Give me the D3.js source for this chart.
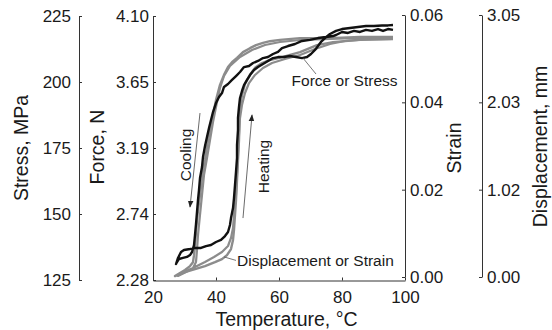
<!DOCTYPE html>
<html><head><meta charset="utf-8">
<script src="https://cdn.jsdelivr.net/npm/d3@7/dist/d3.min.js"></script>
<style>
html,body{margin:0;padding:0;background:#fff;}
svg{display:block;}
text{font-family:"Liberation Sans", Arial, sans-serif;fill:#1a1a1a;}
</style></head><body>
<svg id="chart" width="552" height="330"></svg>
<script>
// ---------- tick labels ----------
const tempTicks = [20, 40, 60, 80, 100];
const stressTicks = [125, 150, 175, 200, 225];
const forceTicks = [2.28, 2.735, 3.19, 3.645, 4.10];
const forceTickLabels = ["2.28", "2.74", "3.19", "3.65", "4.10"];
const strainTicks = [0, 0.02, 0.04, 0.06];
const dispTicks = [0, 1.0167, 2.0333, 3.05];
const dispTickLabels = ["0.00", "1.02", "2.03", "3.05"];

// ---------- Force (black) loop: cooling then heating ----------
const forceCoolT = [96.19,94.60,93.02,91.43,89.52,87.62,85.71,83.81,81.90,80.00,78.10,77.14,74.92,72.38,69.84,67.30,65.08,62.86,60.95,59.68,58.10,56.51,54.92,53.33,51.75,50.48,48.89,47.62,46.35,45.08,43.81,42.54,41.90,40.95,40.00,39.05,38.41,37.78,37.14,36.51,35.87,35.56,34.92,34.60,34.29,33.97,33.65,33.33,33.02,32.38,31.75,30.79,29.52,28.25,27.62,27.30,27.94,28.89,29.84,31.75];
const forceCoolF = [4.004,4.010,3.997,4.010,3.997,4.004,3.990,3.997,3.983,3.990,3.969,3.962,3.955,3.948,3.935,3.928,3.907,3.893,3.879,3.852,3.838,3.817,3.810,3.790,3.776,3.755,3.748,3.714,3.686,3.659,3.631,3.611,3.569,3.542,3.500,3.438,3.383,3.328,3.266,3.204,3.128,3.059,2.983,2.900,2.832,2.749,2.666,2.590,2.521,2.473,2.452,2.439,2.432,2.425,2.404,2.390,2.432,2.473,2.487,2.494];
const forceHeatT = [33.33,35.24,36.83,38.41,40.00,41.59,42.86,43.81,44.44,44.76,45.40,45.71,46.03,46.35,46.67,46.67,46.98,46.98,47.30,47.62,48.25,48.89,49.84,50.79,52.06,53.33,54.92,56.51,58.10,59.68,61.59,63.49,65.40,67.30,68.89,70.16,71.43,72.38,73.33,74.60,76.19,78.10,80.00,82.54,85.08,87.62,90.16,92.70,94.60,96.19];
const forceHeatF = [2.501,2.501,2.514,2.521,2.542,2.556,2.583,2.611,2.659,2.707,2.776,2.845,2.935,3.025,3.121,3.211,3.314,3.397,3.473,3.535,3.583,3.624,3.659,3.693,3.728,3.748,3.769,3.790,3.810,3.817,3.817,3.824,3.817,3.810,3.817,3.838,3.866,3.893,3.921,3.948,3.976,3.997,4.010,4.017,4.024,4.031,4.031,4.035,4.035,4.038];

// ---------- Strain (gray) loop ----------
const strainCoolT = [96.19,85.71,76.19,66.67,60.32,57.14,54.92,52.70,50.79,48.57,46.67,45.08,43.81,42.54,41.27,40.00,38.73,37.78,37.14,36.51,35.87,34.92,34.29,33.97,33.65,33.33,33.02,32.70,31.75,30.16,28.57,26.98];
const strainCoolS = [0.0550,0.0550,0.0547,0.0547,0.0543,0.0540,0.0536,0.0531,0.0524,0.0515,0.0502,0.0492,0.0481,0.0463,0.0440,0.0405,0.0360,0.0325,0.0298,0.0268,0.0245,0.0188,0.0153,0.0131,0.0103,0.0073,0.0050,0.0034,0.0025,0.0016,0.0009,0.0002];
const strainHeatT = [26.98,30.16,33.33,36.51,39.68,41.90,43.49,44.76,45.40,45.71,46.03,46.35,46.67,46.98,47.30,47.46,47.62,48.25,49.21,50.79,52.38,54.60,57.14,61.27,66.67,72.06,77.14,85.71,96.19];
const strainHeatS = [0.0002,0.0011,0.0018,0.0025,0.0034,0.0041,0.0050,0.0064,0.0085,0.0108,0.0142,0.0176,0.0222,0.0268,0.0314,0.0360,0.0389,0.0417,0.0442,0.0463,0.0479,0.0490,0.0497,0.0504,0.0515,0.0531,0.0538,0.0543,0.0545];

// ---------- Displacement (gray) loop ----------
const dispCoolT = [96.19,85.71,76.19,66.67,60.32,55.56,51.43,47.62,44.44,42.54,41.27,40.32,39.05,38.10,37.14,36.19,35.56,34.92,34.29,33.97,33.65,32.70,30.48,27.94];
const dispCoolD = [2.782,2.782,2.771,2.759,2.736,2.701,2.643,2.561,2.456,2.340,2.200,2.037,1.804,1.595,1.385,1.187,0.955,0.722,0.489,0.314,0.175,0.105,0.058,0.012];
const dispHeatT = [27.94,30.48,33.33,36.51,39.37,41.90,43.81,44.76,45.40,45.71,46.35,46.67,46.98,47.30,47.62,48.25,49.21,50.48,52.38,54.92,57.78,61.90,66.67,71.43,76.19,80.95,87.30,96.19];
const dispHeatD = [0.012,0.070,0.116,0.175,0.233,0.291,0.361,0.454,0.570,0.722,0.955,1.187,1.420,1.653,1.851,2.002,2.142,2.258,2.352,2.433,2.491,2.538,2.584,2.654,2.713,2.747,2.765,2.771];

// ---------- annotations (data units) ----------
const coolArrow = [[34.92, 3.431], [31.75, 2.783]];      // T, Force
const heatArrow = [[48.57, 2.707], [51.43, 3.418]];
const forceLeader = [[67.62, 3.810], [71.75, 3.700]];
const forceLabelPos = [64.0, 3.614];
const strainLeader = [[42.54, 0.0046], [46.35, 0.0038]]; // T, Strain
const strainLabelPos = [46.67, 0.0025];
const coolLabelPos = [32.06, 3.142];
const heatLabelPos = [56.67, 3.062];

// ---------- scales ----------
const svg = d3.select("#chart");
const x = d3.scaleLinear().domain([20, 100]).range([153, 405]);
const yForce = d3.scaleLinear().domain([2.28, 4.10]).range([280, 16]);
const yStress = d3.scaleLinear().domain([125, 225]).range([280, 16]);
const yStrain = d3.scaleLinear().domain([0, 0.06]).range([277, 15]);
const yDisp = d3.scaleLinear().domain([0, 3.05]).range([277, 15]);

const tickFont = "17px";
const titleFont = "19.5px";
const annFont = "15.5px";
const axisColor = "#333";

function styleAxis(g) {
  g.selectAll("path.domain").attr("stroke", axisColor).attr("stroke-width", 1);
  g.selectAll(".tick line").attr("stroke", axisColor).attr("stroke-width", 1);
  g.selectAll(".tick text").attr("fill", "#1a1a1a").style("font-size", tickFont)
    .style("font-family", '"Liberation Sans", Arial, sans-serif');
}

// Stress axis
svg.append("g").attr("transform", "translate(79,0)")
  .call(d3.axisLeft(yStress).tickValues(stressTicks).tickFormat(d3.format("d"))
    .tickSizeInner(-3).tickSizeOuter(0).tickPadding(8))
  .call(styleAxis);
// Force axis
svg.append("g").attr("transform", "translate(153,0)")
  .call(d3.axisLeft(yForce).tickValues(forceTicks).tickFormat((d, i) => forceTickLabels[i])
    .tickSizeInner(-3).tickSizeOuter(0).tickPadding(4))
  .call(styleAxis);
// Temperature axis
svg.append("g").attr("transform", "translate(0,280.5)")
  .call(d3.axisBottom(x).tickValues(tempTicks).tickFormat(d3.format("d"))
    .tickSizeInner(-3).tickSizeOuter(0).tickPadding(10))
  .call(styleAxis);
// Strain axis
svg.append("g").attr("transform", "translate(405,0)")
  .call(d3.axisRight(yStrain).tickValues(strainTicks).tickFormat(d3.format(".2f"))
    .tickSizeInner(-3).tickSizeOuter(0).tickPadding(5))
  .call(styleAxis);
// Displacement axis
svg.append("g").attr("transform", "translate(482,0)")
  .call(d3.axisRight(yDisp).tickValues(dispTicks).tickFormat((d, i) => dispTickLabels[i])
    .tickSizeInner(-3).tickSizeOuter(0).tickPadding(5))
  .call(styleAxis);

// Axis titles
function vTitle(xp, yp, txt) {
  svg.append("text").attr("transform", `translate(${xp},${yp}) rotate(-90)`)
    .attr("text-anchor", "middle").style("font-size", titleFont).text(txt);
}
vTitle(27.5, 148, "Stress, MPa");
vTitle(104, 147, "Force, N");
vTitle(460.5, 148, "Strain");
vTitle(547, 146.5, "Displacement, mm");
svg.append("text").attr("x", 286.5).attr("y", 325.5).attr("text-anchor", "middle")
  .style("font-size", titleFont).text("Temperature, °C");

// ---------- curves ----------
const zip = (a, b) => a.map((v, i) => [v, b[i]]);
const lineF = d3.line().x(d => x(d[0])).y(d => yForce(d[1]));
const lineS = d3.line().x(d => x(d[0])).y(d => yStrain(d[1]));
const lineD = d3.line().x(d => x(d[0])).y(d => yDisp(d[1]));

const gray = "#8c8c8c";
svg.append("path").attr("d", lineD(zip(dispCoolT.concat(dispHeatT), dispCoolD.concat(dispHeatD))))
  .attr("fill", "none").attr("stroke", gray).attr("stroke-width", 2.2).attr("stroke-linejoin", "round");
svg.append("path").attr("d", lineS(zip(strainCoolT.concat(strainHeatT), strainCoolS.concat(strainHeatS))))
  .attr("fill", "none").attr("stroke", gray).attr("stroke-width", 2.4).attr("stroke-linejoin", "round");
svg.append("path").attr("d", lineF(zip(forceCoolT.concat(forceHeatT), forceCoolF.concat(forceHeatF))))
  .attr("fill", "none").attr("stroke", "#111").attr("stroke-width", 2.4).attr("stroke-linejoin", "round");

// ---------- annotations ----------
const defs = svg.append("defs");
defs.append("marker").attr("id", "ah").attr("viewBox", "0 0 10 10")
  .attr("refX", 9).attr("refY", 5).attr("markerWidth", 7).attr("markerHeight", 7)
  .attr("markerUnits", "userSpaceOnUse").attr("orient", "auto")
  .append("path").attr("d", "M0,1 L10,5 L0,9 Z").attr("fill", "#222");

svg.append("path").attr("d", lineF(coolArrow)).attr("stroke", "#444").attr("stroke-width", 0.8)
  .attr("fill", "none").attr("marker-end", "url(#ah)");
svg.append("path").attr("d", lineF(heatArrow)).attr("stroke", "#444").attr("stroke-width", 0.8)
  .attr("fill", "none").attr("marker-end", "url(#ah)");
svg.append("path").attr("d", lineF(forceLeader)).attr("stroke", "#555").attr("stroke-width", 0.8).attr("fill", "none");
svg.append("path").attr("d", lineS(strainLeader)).attr("stroke", "#555").attr("stroke-width", 0.8).attr("fill", "none");

svg.append("text").attr("x", x(forceLabelPos[0])).attr("y", yForce(forceLabelPos[1]))
  .style("font-size", annFont).text("Force or Stress");
svg.append("text").attr("x", x(strainLabelPos[0])).attr("y", yStrain(strainLabelPos[1]))
  .style("font-size", annFont).text("Displacement or Strain");
svg.append("text").attr("transform", `translate(${x(coolLabelPos[0])},${yForce(coolLabelPos[1])}) rotate(-90)`)
  .attr("text-anchor", "middle").style("font-size", annFont).text("Cooling");
svg.append("text").attr("transform", `translate(${x(heatLabelPos[0])},${yForce(heatLabelPos[1])}) rotate(-90)`)
  .attr("text-anchor", "middle").style("font-size", annFont).text("Heating");
</script>
</body></html>
